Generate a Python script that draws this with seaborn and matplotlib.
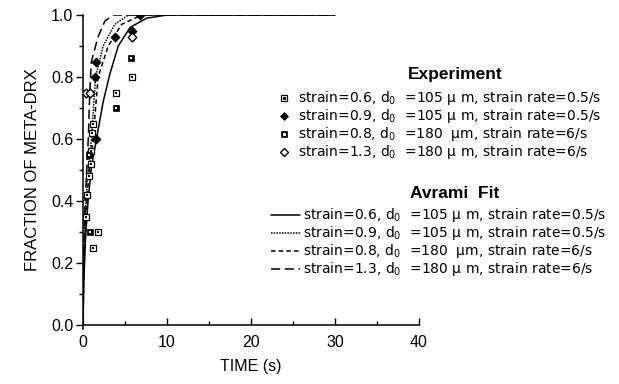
import matplotlib
matplotlib.use("Agg")
import matplotlib.pyplot as plt
import seaborn as sns
from matplotlib.lines import Line2D
from matplotlib.ticker import MultipleLocator

sns.set_theme(style="ticks")
plt.rcParams["font.family"] = ["Liberation Sans", "DejaVu Sans"]
plt.rcParams["mathtext.fontset"] = "custom"
plt.rcParams["mathtext.rm"] = "Liberation Sans"
plt.rcParams["mathtext.it"] = "Liberation Sans"
plt.rcParams["mathtext.default"] = "regular"

# ---- measured fractions (experiment) ----
exp_t_06 = [0.3, 0.5, 0.7, 0.9, 1.0, 1.1, 1.2, 1.2, 1.75, 3.9, 5.8]
exp_x_06 = [0.35, 0.42, 0.48, 0.52, 0.56, 0.62, 0.65, 0.25, 0.30, 0.75, 0.80]
exp_t_09 = [1.6, 1.4, 1.5, 3.8, 5.8, 6.8]
exp_x_09 = [0.60, 0.80, 0.85, 0.93, 0.95, 1.00]
exp_t_08 = [0.8, 0.7, 3.9, 5.7]
exp_x_08 = [0.30, 0.55, 0.70, 0.86]
exp_t_13 = [0.4, 0.8, 5.8]
exp_x_13 = [0.75, 0.75, 0.93]

# ---- Avrami fit curves ----
fit_t_06 = [0, 0.1, 0.3, 0.6, 1.0, 1.6, 2.4, 3.2, 4.2, 5.6, 7.6, 10, 30]
fit_x_06 = [0, 0.14, 0.28, 0.40, 0.51, 0.60, 0.72, 0.81, 0.90, 0.96, 0.99, 1.0, 1.0]
fit_t_09 = [0, 0.08, 0.35, 0.7, 1.0, 1.5, 2.4, 3.8, 5.4, 30]
fit_x_09 = [0, 0.20, 0.40, 0.53, 0.60, 0.80, 0.90, 0.97, 1.0, 1.0]
fit_t_08 = [0, 0.1, 0.45, 0.8, 1.2, 1.8, 3.0, 4.6, 7.0, 30]
fit_x_08 = [0, 0.20, 0.40, 0.52, 0.60, 0.80, 0.90, 0.97, 1.0, 1.0]
fit_t_13 = [0, 0.05, 0.25, 0.63, 0.8, 1.0, 1.8, 2.6, 3.6, 30]
fit_x_13 = [0, 0.20, 0.40, 0.60, 0.75, 0.85, 0.93, 0.98, 1.0, 1.0]

labels = [
    r"strain=0.6, d$_0$  =105 μ m, strain rate=0.5/s",
    r"strain=0.9, d$_0$  =105 μ m, strain rate=0.5/s",
    r"strain=0.8, d$_0$  =180  μm, strain rate=6/s",
    r"strain=1.3, d$_0$  =180 μ m, strain rate=6/s",
]

W, H = 619, 384
fig = plt.figure(figsize=(W / 100, H / 100), dpi=100)
ax = fig.add_axes([83 / W, 1 - 325 / H, (419 - 83) / W, (325 - 15) / H])

ink = "black"
line_styles = ["-", (0, (1, 0.8)), (0, (3, 2)), (0, (6, 3))]
fits = [(fit_t_06, fit_x_06), (fit_t_09, fit_x_09), (fit_t_08, fit_x_08), (fit_t_13, fit_x_13)]
for (t, x), ls in zip(fits, line_styles):
    sns.lineplot(x=t, y=x, ax=ax, color=ink, linewidth=1.1, linestyle=ls,
                 estimator=None, sort=False)

# experiment markers
sns.scatterplot(x=exp_t_06, y=exp_x_06, ax=ax, marker="s", s=22,
                facecolor="white", edgecolor=ink, linewidth=0.9, zorder=5)
sns.scatterplot(x=exp_t_06, y=exp_x_06, ax=ax, marker="s", s=2,
                color=ink, linewidth=0, zorder=6)
sns.scatterplot(x=exp_t_08, y=exp_x_08, ax=ax, marker="s", s=24,
                color=ink, edgecolor=ink, linewidth=0.5, zorder=5)
sns.scatterplot(x=exp_t_08, y=exp_x_08, ax=ax, marker="s", s=2,
                color="white", linewidth=0, zorder=6)
sns.scatterplot(x=exp_t_09, y=exp_x_09, ax=ax, marker="D", s=22,
                color=ink, edgecolor=ink, linewidth=0.5, zorder=5)
sns.scatterplot(x=exp_t_13, y=exp_x_13, ax=ax, marker="D", s=20,
                facecolor="white", edgecolor=ink, linewidth=1.0, zorder=5)

ax.set_xlim(0, 40)
ax.set_ylim(0, 1.0)
sns.despine(ax=ax)
ax.spines["left"].set_bounds(-0.012, 1.0)
ax.spines["bottom"].set_bounds(0, 40)
for sp in ax.spines.values():
    sp.set_linewidth(1.1)
    sp.set_color(ink)
ax.xaxis.set_major_locator(MultipleLocator(10))
ax.xaxis.set_minor_locator(MultipleLocator(5))
ax.yaxis.set_major_locator(MultipleLocator(0.2))
ax.yaxis.set_minor_locator(MultipleLocator(0.1))
ax.set_xticks([0, 10, 20, 30, 40])
ax.set_yticks([0.0, 0.2, 0.4, 0.6, 0.8, 1.0])
ax.set_yticklabels(["0.0", "0.2", "0.4", "0.6", "0.8", "1.0"])
ax.tick_params(axis="x", which="major", direction="in", length=5, width=1, colors=ink,
               labelsize=11.5, pad=7)
ax.tick_params(axis="x", which="minor", direction="in", length=3, width=1, colors=ink)
ax.tick_params(axis="y", which="major", direction="out", length=5, width=1, colors=ink,
               labelsize=11.5, pad=2)
ax.tick_params(axis="y", which="minor", direction="out", length=3, width=1, colors=ink)
ax.set_xlabel("TIME (s)", fontsize=11.5, color=ink, labelpad=7)
ax.set_ylabel("FRACTION OF META-DRX", fontsize=12, color=ink, labelpad=8)

# ---- key, drawn in figure pixels ----
def fx(px):
    return px / W

def fy(py):
    return 1 - py / H

key_font = ["DejaVu Sans", "Liberation Sans"]
fig.text(fx(455), fy(75), "Experiment", ha="center", va="center",
         fontsize=12.5, fontweight="bold", color=ink)
exp_rows = [98, 116, 134, 152]
exp_keys = [
    [dict(marker="s", ms=5, mfc="white", mec=ink, mew=0.9), dict(marker="s", ms=1.2, mfc=ink, mec=ink)],
    [dict(marker="D", ms=4.5, mfc=ink, mec=ink, mew=0.5)],
    [dict(marker="s", ms=5, mfc=ink, mec=ink, mew=0.5), dict(marker="s", ms=1.2, mfc="white", mec="white")],
    [dict(marker="D", ms=4.5, mfc="white", mec=ink, mew=1.0)],
]
for row, keys, lab in zip(exp_rows, exp_keys, labels):
    for k in keys:
        fig.add_artist(Line2D([fx(284)], [fy(row)], transform=fig.transFigure,
                              linestyle="none", **k))
    fig.text(fx(298), fy(row), lab, ha="left", va="center", fontsize=10,
             family=key_font, color=ink)

fig.text(fx(455), fy(193), "Avrami  Fit", ha="center", va="center",
         fontsize=12.5, fontweight="bold", color=ink)
fit_rows = [215, 233, 251, 269]
for row, ls, lab in zip(fit_rows, line_styles, labels):
    fig.add_artist(Line2D([fx(271), fx(300)], [fy(row), fy(row)], transform=fig.transFigure,
                          color=ink, linewidth=1.1, linestyle=ls))
    fig.text(fx(303), fy(row), lab, ha="left", va="center", fontsize=10,
             family=key_font, color=ink)

fig.savefig("out.png", dpi=100)
